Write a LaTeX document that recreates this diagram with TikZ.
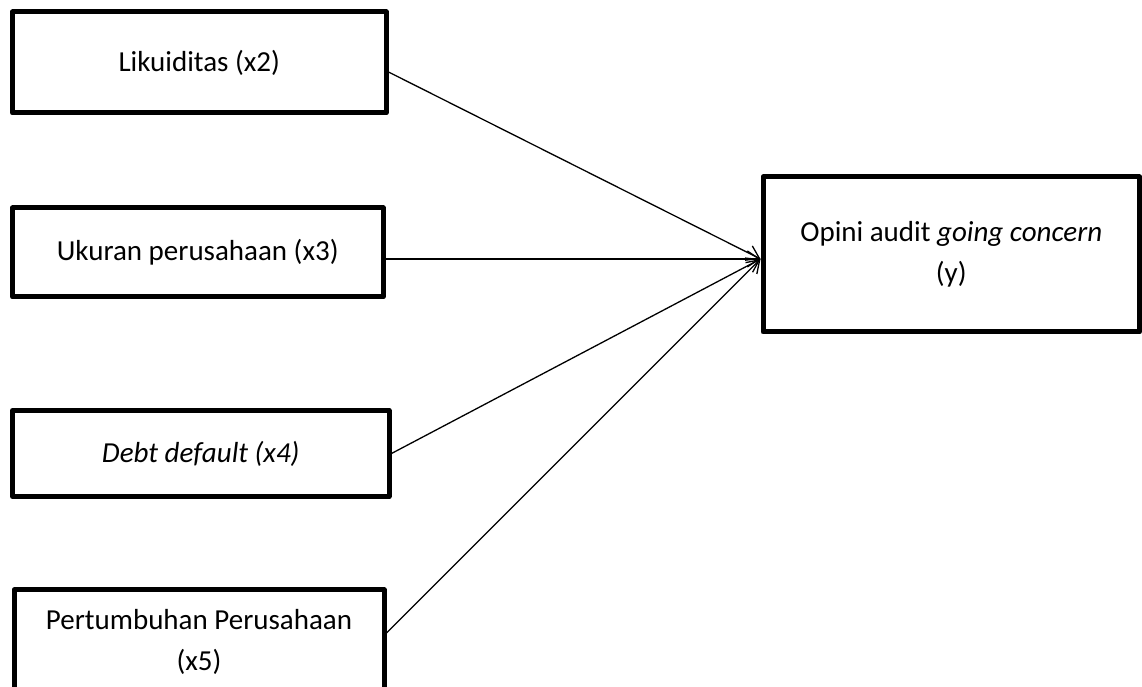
\documentclass[tikz,border=0pt]{standalone}
\usepackage{fontspec}
\setmainfont{Carlito}
\usetikzlibrary{arrows.meta}
\begin{document}
\begin{tikzpicture}[x=1pt,y=1pt,
  box/.style={draw=black, line width=5pt, line join=round, fill=white, inner sep=0pt, align=center,
    font=\fontsize{29}{41}\selectfont},
  conn/.style={draw=black, line width=1.3pt, -{Straight Barb[length=12pt,width=16pt,line width=1.3pt]}}]
\useasboundingbox (0,0) rectangle (1142,687);
\fill[white] (0,0) rectangle (1142,687);
\node[box, minimum width=373.5pt, minimum height=101pt] (b1) at (199.25,624.5) {Likuiditas (x2)};
\node[box, minimum width=370.5pt, minimum height=89pt] (b2) at (197.75,434.5) {Ukuran perusahaan (x3)};
\node[box, minimum width=376.5pt, minimum height=86pt] (b3) at (200.75,233.5) {\itshape Debt default (x4)};
\node[box, minimum width=370pt, minimum height=103pt] (b4) at (199,45.5) {Pertumbuhan Perusahaan\\(x5)};
\node[box, minimum width=376.5pt, minimum height=155pt] (t) at (951.25,432.5) {Opini audit \textit{going concern}\\(y)};
\coordinate (tip) at ([yshift=-4.5pt]t.west);
\draw[conn] ([yshift=-9.5pt]b1.east) -- (tip);
\draw[conn] ([yshift=-6.5pt]b2.east) -- (tip);
\draw[conn] (b3.east) -- (tip);
\draw[conn] ([yshift=8.5pt]b4.east) -- (tip);
\end{tikzpicture}
\end{document}
